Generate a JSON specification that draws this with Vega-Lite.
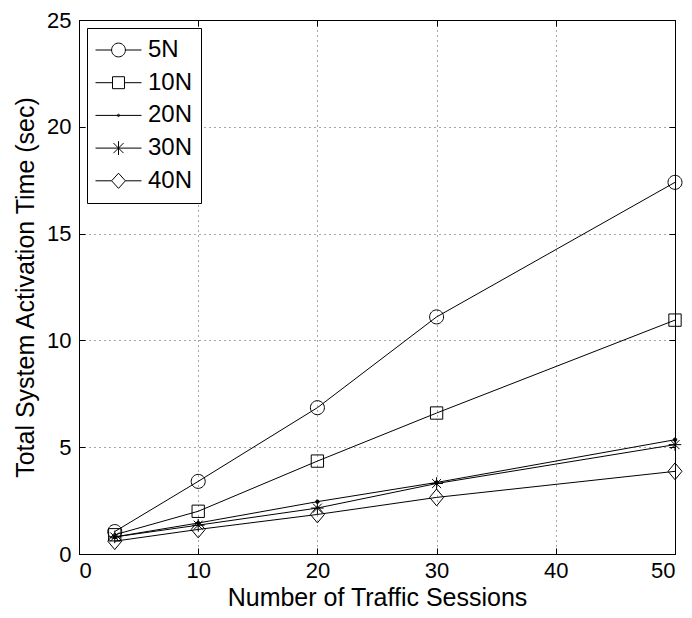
{
  "$schema": "https://vega.github.io/schema/vega-lite/v6.json",
  "autosize": {"type": "none"},
  "width": 596,
  "height": 534,
  "padding": {"left": 79, "top": 20, "right": 17, "bottom": 64},
  "background": "white",
  "config": {
    "font": "Liberation Sans",
    "view": {"stroke": "black", "strokeWidth": 1},
    "axis": {
      "domainColor": "black",
      "tickColor": "black",
      "labelColor": "black",
      "titleColor": "black",
      "labelFont": "Liberation Sans",
      "titleFont": "Liberation Sans",
      "labelFontSize": 22,
      "titleFontSize": 25,
      "titleFontWeight": "normal",
      "gridColor": "black",
      "gridDash": [1, 4],
      "gridOpacity": 0.7,
      "tickSize": -6
    }
  },
  "data": {
    "values": [
      {"n": 3, "t": 1.05, "s": "5N"},
      {"n": 10, "t": 3.4, "s": "5N"},
      {"n": 20, "t": 6.85, "s": "5N"},
      {"n": 30, "t": 11.1, "s": "5N"},
      {"n": 50, "t": 17.4, "s": "5N"},
      {"n": 3, "t": 0.9, "s": "10N"},
      {"n": 10, "t": 2.0, "s": "10N"},
      {"n": 20, "t": 4.35, "s": "10N"},
      {"n": 30, "t": 6.6, "s": "10N"},
      {"n": 50, "t": 10.95, "s": "10N"},
      {"n": 3, "t": 0.8, "s": "20N"},
      {"n": 10, "t": 1.45, "s": "20N"},
      {"n": 20, "t": 2.45, "s": "20N"},
      {"n": 30, "t": 3.35, "s": "20N"},
      {"n": 50, "t": 5.35, "s": "20N"},
      {"n": 3, "t": 0.8, "s": "30N"},
      {"n": 10, "t": 1.35, "s": "30N"},
      {"n": 20, "t": 2.15, "s": "30N"},
      {"n": 30, "t": 3.3, "s": "30N"},
      {"n": 50, "t": 5.12, "s": "30N"},
      {"n": 3, "t": 0.6, "s": "40N"},
      {"n": 10, "t": 1.15, "s": "40N"},
      {"n": 20, "t": 1.85, "s": "40N"},
      {"n": 30, "t": 2.65, "s": "40N"},
      {"n": 50, "t": 3.87, "s": "40N"}
    ]
  },
  "resolve": {
    "scale": {"shape": "independent"},
    "axis": {"x": "independent", "y": "independent"},
    "legend": {"shape": "independent"}
  },
  "layer": [
    {
      "mark": {"type": "line", "color": "black", "strokeWidth": 1},
      "encoding": {
        "x": {"field": "n", "type": "quantitative", "scale": {"domain": [0, 50], "nice": false},
          "axis": {"title": "Number of Traffic Sessions", "values": [0, 10, 20, 30, 40, 50], "grid": true, "labelPadding": 12, "titlePadding": 4}},
        "y": {"field": "t", "type": "quantitative", "scale": {"domain": [0, 25], "nice": false},
          "axis": {"title": "Total System Activation Time (sec)", "values": [0, 5, 10, 15, 20, 25], "grid": true, "labelPadding": 14, "titlePadding": 8}},
        "detail": {"field": "s"}
      }
    },
    {
      "mark": {"type": "point", "color": "black", "filled": false, "strokeWidth": 1, "opacity": 1, "size": 196},
      "encoding": {
        "x": {"field": "n", "type": "quantitative", "axis": null},
        "y": {"field": "t", "type": "quantitative", "axis": null},
        "fill": {"condition": {"test": "datum.s === '20N'", "value": "black"}, "value": "transparent"},
        "shape": {"field": "s", "type": "nominal", "legend": null,
          "scale": {"domain": ["5N", "10N", "20N", "30N", "40N"],
            "range": [
              "M-1,0A1,1 0 1,0 1,0A1,1 0 1,0 -1,0",
              "M-0.88,-0.88H0.88V0.88H-0.88Z",
              "M-0.25,0A0.25,0.25 0 1,0 0.25,0A0.25,0.25 0 1,0 -0.25,0",
              "M-0.9,0H0.9M0,-0.9V0.9M-0.64,-0.64L0.64,0.64M-0.64,0.64L0.64,-0.64",
              "M-1,0L0,-1.2L1,0L0,1.2Z"
            ]}}
      }
    },
    {
      "mark": {"type": "point", "color": "black", "filled": false, "strokeWidth": 1, "opacity": 0},
      "encoding": {
        "x": {"field": "n", "type": "quantitative", "axis": {"orient": "top", "labels": false, "title": null, "values": [0, 10, 20, 30, 40, 50], "grid": false, "domain": false}},
        "y": {"field": "t", "type": "quantitative", "axis": {"orient": "right", "labels": false, "title": null, "values": [0, 5, 10, 15, 20, 25], "grid": false, "domain": false}},
        "shape": {"field": "s", "type": "nominal",
          "scale": {"domain": ["5N", "10N", "20N", "30N", "40N"],
            "range": [
              "M-1,0H-0.3M0.3,0H1M-0.3,0A0.3,0.3 0 1,0 0.3,0A0.3,0.3 0 1,0 -0.3,0",
              "M-1,0H-0.26M0.26,0H1M-0.26,-0.26H0.26V0.26H-0.26Z",
              "M-1,0H1M-0.05,0A0.05,0.05 0 1,0 0.05,0A0.05,0.05 0 1,0 -0.05,0",
              "M-1,0H1M0,-0.3V0.3M-0.22,-0.22L0.22,0.22M-0.22,0.22L0.22,-0.22",
              "M-1,0H-0.3M0.3,0H1M-0.3,0L0,-0.33L0.3,0L0,0.33Z"
            ]},
          "legend": {
            "title": null,
            "orient": "top-left",
            "offset": 8,
            "padding": 8,
            "strokeColor": "black",
            "fillColor": "white",
            "symbolSize": 2116,
            "symbolStrokeColor": "black",
            "symbolStrokeWidth": 1,
            "symbolFillColor": "transparent",
            "symbolOpacity": 1,
            "labelFont": "Liberation Sans",
            "labelFontSize": 24,
            "labelColor": "black",
            "labelOffset": 6,
            "clipHeight": 28,
            "rowPadding": 4.7
          }
        }
      }
    }
  ]
}
